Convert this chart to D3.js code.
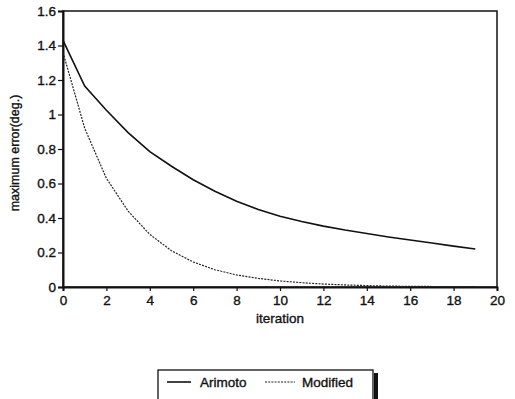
<!DOCTYPE html>
<html><head><meta charset="utf-8">
<script src="https://cdn.jsdelivr.net/npm/d3@7"></script>
<style>
body{margin:0;background:#fff;}
svg{display:block;font-family:"Liberation Sans",Arial,sans-serif;}
text{stroke:#111;stroke-width:0.35px;}
</style></head>
<body><svg id="c" width="515" height="399"></svg>
<script>
const iterations = d3.range(0, 20);
const arimoto = [1.43, 1.165, 1.025, 0.895, 0.785, 0.70, 0.622, 0.555, 0.497, 0.449, 0.41, 0.38, 0.353, 0.33, 0.31, 0.29, 0.272, 0.255, 0.237, 0.22];
const modified = [1.36, 0.92, 0.63, 0.44, 0.305, 0.21, 0.145, 0.10, 0.07, 0.05, 0.035, 0.025, 0.017, 0.012, 0.008, 0.005, 0.004, 0.003, 0.002, 0.002];
const xTicks = [0, 2, 4, 6, 8, 10, 12, 14, 16, 18, 20];
const yTicks = [0, 0.2, 0.4, 0.6, 0.8, 1, 1.2, 1.4, 1.6];
const seriesNames = ["Arimoto", "Modified"];

const svg = d3.select("#c");
const x = d3.scaleLinear().domain([0, 20]).range([63, 497]);
const y = d3.scaleLinear().domain([0, 1.6]).range([287, 11]);

svg.append("rect").attr("x", 63).attr("y", 11).attr("width", 434).attr("height", 276)
  .attr("fill", "none").attr("stroke", "#111").attr("stroke-width", 1.5);

const xAxis = svg.append("g").attr("transform", "translate(0,287)")
  .call(d3.axisBottom(x).tickValues(xTicks).tickFormat(d3.format("d")).tickSize(4).tickPadding(4));
const yAxis = svg.append("g").attr("transform", "translate(63,0)")
  .call(d3.axisLeft(y).tickValues(yTicks).tickFormat(d => String(d)).tickSize(5).tickPadding(2));
[xAxis, yAxis].forEach(a => {
  a.select(".domain").attr("stroke", "#111").attr("stroke-width", 2);
  a.selectAll(".tick line").attr("stroke", "#111").attr("stroke-width", 1.2);
  a.selectAll(".tick text").attr("fill", "#111").style("font-size", "13.5px").style("font-family", "Liberation Sans, Arial, sans-serif");
});

svg.append("text").attr("x", 280).attr("y", 323).attr("text-anchor", "middle")
  .attr("fill", "#111").style("font-size", "13.5px").text("iteration");
svg.append("text").attr("transform", "translate(19,153) rotate(-90)").attr("text-anchor", "middle")
  .attr("fill", "#111").style("font-size", "12.5px").text("maximum error(deg.)");

const line = d3.line().x((d, i) => x(iterations[i])).y(d => y(d));
svg.append("path").datum(arimoto).attr("d", line).attr("fill", "none")
  .attr("stroke", "#111").attr("stroke-width", 1.6);
svg.append("path").datum(modified).attr("d", line).attr("fill", "none")
  .attr("stroke", "#222").attr("stroke-width", 1.2).attr("stroke-dasharray", "2,1.2");

const lg = svg.append("g");
lg.append("rect").attr("x", 374).attr("y", 373).attr("width", 4).attr("height", 30).attr("fill", "#111");
lg.append("rect").attr("x", 158).attr("y", 370).attr("width", 215).attr("height", 40)
  .attr("fill", "#fff").attr("stroke", "#111").attr("stroke-width", 1.3);
lg.append("line").attr("x1", 167).attr("x2", 191).attr("y1", 382).attr("y2", 382)
  .attr("stroke", "#111").attr("stroke-width", 1.6);
lg.append("text").attr("x", 200).attr("y", 387).attr("fill", "#111").style("font-size", "13.5px").text(seriesNames[0]);
lg.append("line").attr("x1", 265).attr("x2", 295).attr("y1", 382).attr("y2", 382)
  .attr("stroke", "#222").attr("stroke-width", 1.2).attr("stroke-dasharray", "2,1.2");
lg.append("text").attr("x", 302).attr("y", 387).attr("fill", "#111").style("font-size", "13.5px").text(seriesNames[1]);
</script></body></html>
